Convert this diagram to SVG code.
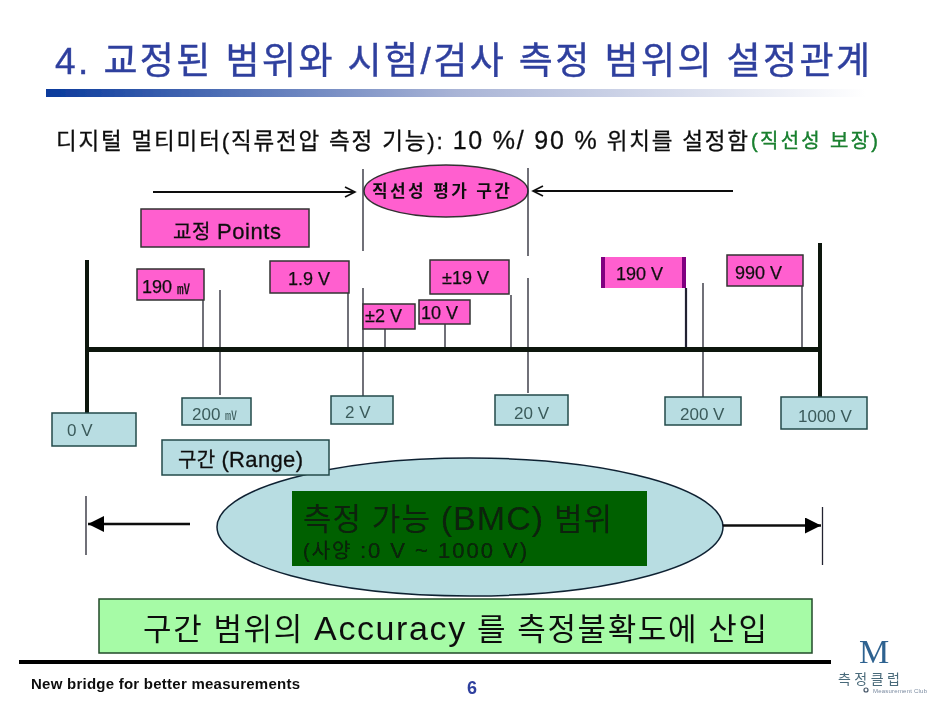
<svg xmlns="http://www.w3.org/2000/svg" width="939" height="702" viewBox="0 0 939 702">
<style>
text{font-family:"Liberation Sans","Noto Sans CJK KR",sans-serif;fill:#111;text-anchor:start}
.pk{fill:#ff5fcf;stroke:#333;stroke-width:1.5}
.tl{fill:#b8dde2;stroke:#234a4a;stroke-width:1.5}
.ln{stroke:#223;stroke-width:1.3;fill:none}
.lg{stroke:#111;stroke-width:2;fill:none}
.th{stroke:#0a1410;fill:none}
.s{font-size:18px;stroke:#111;stroke-width:.25px}
.g{fill:#3a5a5a;font-size:17px}
.m{stroke:#111;stroke-width:.3px}
</style>
<defs>
<linearGradient id="bar" x1="0" x2="1" y1="0" y2="0"><stop offset="0" stop-color="#0a3a9c"/><stop offset=".5" stop-color="#a9b4d6"/><stop offset="1" stop-color="#fff"/></linearGradient>
<marker id="open" markerWidth="14" markerHeight="14" refX="11" refY="6" orient="auto-start-reverse" markerUnits="userSpaceOnUse"><path d="M1 1L11 6L1 11" fill="none" stroke="#111" stroke-width="1.6"/></marker>
<marker id="solid" markerWidth="18" markerHeight="18" refX="16" refY="8" orient="auto-start-reverse" markerUnits="userSpaceOnUse"><path d="M0 0L16 8L0 16Z" fill="#000"/></marker>
<filter id="soft" x="0" y="0" width="1" height="1"><feGaussianBlur stdDeviation="0.45"/></filter>
</defs>
<rect width="939" height="702" fill="#fff"/>
<g filter="url(#soft)">
<g id="header">
<text x="55" y="74" font-size="37" textLength="815" lengthAdjust="spacing" style="fill:#2f3f9e;stroke:#2f3f9e;stroke-width:.4px">4. 교정된 범위와 시험/검사 측정 범위의 설정관계</text>
<rect x="46" y="89" width="820" height="8" fill="url(#bar)"/>
<text x="56" y="149" font-size="22.500" textLength="692" lengthAdjust="spacing" class="m">디지털 멀티미터(직류전압 측정 기능): <tspan font-size="25">10 %/ 90 %</tspan> 위치를 설정함</text>
<text x="751" y="148" font-size="20" textLength="127" lengthAdjust="spacing" style="fill:#1a8030;stroke:#1a8030;stroke-width:.4px">(직선성 보장)</text>
</g>
<g id="linearity"><ellipse cx="446" cy="191" rx="82" ry="26" class="pk"/>
<text x="372" y="197" font-size="17" textLength="138" lengthAdjust="spacing" font-weight="bold">직선성 평가 구간</text></g>
<g id="connectors">
<path class="ln" d="M363 169V251M528 168V256M528 278V393M363 288V396M220 290V395M703 283V397"/>
<path class="ln" d="M203 300V349M348 293V349M385 329V349M445 324V349M511 295V349M802 286V349" stroke-width="1.6"/>
<path class="ln" d="M686 288V349" style="stroke-width:2.2"/>
<path class="th" stroke-width="5" d="M87 349.500H820"/>
<path class="th" stroke-width="4" d="M87 260V413M820 243V397"/>
<path class="lg" d="M153 192H355" marker-end="url(#open)"/>
<path class="lg" d="M733 191H533" marker-end="url(#open)"/>
<path class="ln" d="M86 496V555M822.500 507V565"/>
</g>
<g id="points"><rect x="141" y="209" width="168" height="38" class="pk"/><text x="173" y="239" font-size="20" textLength="108" lengthAdjust="spacing" class="m">교정 <tspan font-size="22">Points</tspan></text></g>
<g id="p190mv"><rect x="137" y="269" width="67" height="31" class="pk"/><text x="142" y="293" class="s">190 <tspan font-size="13">㎷</tspan></text></g>
<g id="p1_9v"><rect x="270" y="261" width="79" height="32" class="pk"/><text x="288" y="285" class="s">1.9 V</text></g>
<g id="p2v"><rect x="363" y="304" width="52" height="25" class="pk"/><text x="365" y="322" class="s">±2 V</text></g>
<g id="p10v"><rect x="419" y="300" width="51" height="24" class="pk"/><text x="421" y="319" class="s">10 V</text></g>
<g id="p19v"><rect x="430" y="260" width="79" height="34" class="pk"/><text x="442" y="284" class="s">±19 V</text></g>
<g id="p190v"><rect x="601" y="257" width="85" height="31" fill="#ff5fcf"/><rect x="601" y="257" width="4" height="31" fill="#800080"/><rect x="682" y="257" width="4" height="31" fill="#800080"/><text x="616" y="280" class="s">190 V</text></g>
<g id="p990v"><rect x="727" y="255" width="76" height="31" class="pk"/><text x="735" y="279" class="s">990 V</text></g>
<g id="r0"><rect x="52" y="413" width="84" height="33" class="tl"/><text x="67" y="436" class="g">0 V</text></g>
<g id="r200mv"><rect x="182" y="398" width="69" height="27" class="tl"/><text x="192" y="420" class="g">200 <tspan font-size="12">㎷</tspan></text></g>
<g id="r2"><rect x="331" y="396" width="62" height="28" class="tl"/><text x="345" y="418" class="g">2 V</text></g>
<g id="r20"><rect x="495" y="395" width="73" height="30" class="tl"/><text x="514" y="419" class="g">20 V</text></g>
<g id="r200"><rect x="665" y="397" width="76" height="28" class="tl"/><text x="680" y="420" class="g">200 V</text></g>
<g id="r1000"><rect x="781" y="397" width="86" height="32" class="tl"/><text x="798" y="422" class="g">1000 V</text></g>
<g id="bmc"><ellipse cx="470" cy="527" rx="253" ry="69" fill="#b8dde2" stroke="#123" stroke-width="1.5"/>
<rect x="292" y="491" width="355" height="75" fill="#006000"/>
<text x="303" y="530" font-size="31" textLength="309" lengthAdjust="spacing" style="fill:#0a200a">측정 가능 <tspan font-size="34">(BMC)</tspan> 범위</text>
<text x="303" y="558" font-size="20" textLength="224" lengthAdjust="spacing" style="fill:#0a200a;stroke:#0a200a;stroke-width:.2px">(사양 <tspan font-size="22">:0 V ~ 1000 V)</tspan></text></g>
<g id="range"><rect x="162" y="440" width="167" height="35" class="tl"/><text x="178" y="467" font-size="20" textLength="125" lengthAdjust="spacing" class="m">구간 <tspan font-size="22">(Range)</tspan></text></g>
<g id="bmc-arrows"><path d="M190 524H88" stroke="#111" stroke-width="2.500" marker-end="url(#solid)"/><path d="M723 525.500H821" stroke="#111" stroke-width="2.500" marker-end="url(#solid)"/></g>
<g id="accuracy"><rect x="99" y="599" width="713" height="54" fill="#a6fba6" stroke="#224a2a" stroke-width="1.500"/>
<text x="143" y="640" font-size="31" textLength="624" lengthAdjust="spacing">구간 범위의 <tspan font-size="34">Accuracy</tspan> 를 측정불확도에 산입</text></g>
<g id="footer"><path d="M19 662H831" stroke="#000" stroke-width="4"/>
<text x="31" y="689" font-size="15" font-weight="bold" textLength="269" lengthAdjust="spacing">New bridge for better measurements</text>
<text x="467" y="694" font-size="18" font-weight="bold" style="fill:#2f3f9e">6</text></g>
<g id="logo"><text x="859" y="663" font-size="34" style="font-family:'Liberation Serif',serif;fill:#2f6290">M</text>
<text x="838" y="684" font-size="14" textLength="62" lengthAdjust="spacing" style="fill:#4a6a7a">측정클럽</text>
<circle cx="866" cy="690" r="2" fill="none" stroke="#456" stroke-width="1.200"/>
<text x="873" y="693" font-size="6" textLength="54" lengthAdjust="spacing" style="fill:#7a8aa0">Measurement Club</text></g>
</g>
</svg>
